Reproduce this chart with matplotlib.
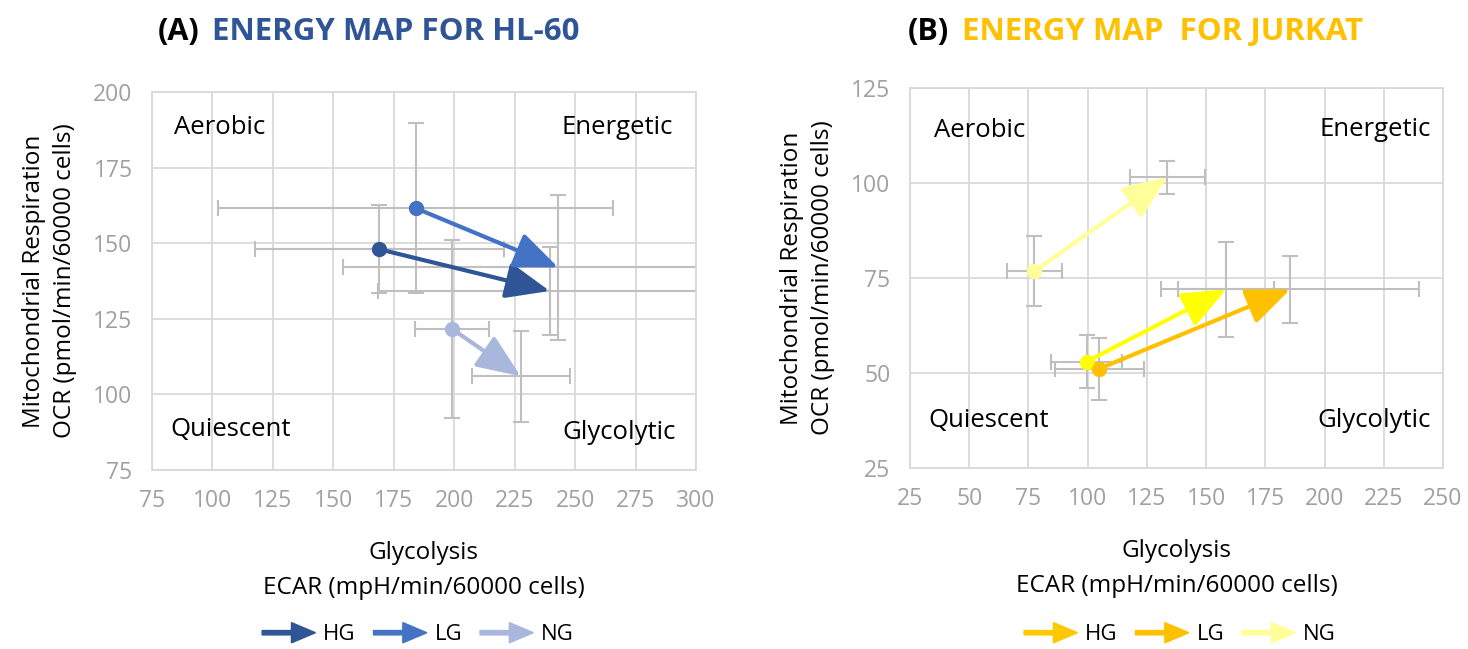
import matplotlib
matplotlib.use("Agg")
import matplotlib.pyplot as plt
import matplotlib.patches as mpatches
from matplotlib.legend_handler import HandlerPatch

plt.rcParams['font.family'] = ['Open Sans', 'DejaVu Sans']

series = ["HG", "LG", "NG"]

# HL-60: start point -> end point with symmetric error bars
hl_x0 = [169, 184, 199]
hl_y0 = [148, 161.6, 121.7]
hl_x1 = [239.5, 243, 227.5]
hl_y1 = [134.2, 142, 106]
hl_x0_err = [51.5, 81.5, 15.4]
hl_y0_err = [14.6, 28, 29.5]
hl_x1_err = [71, 89, 20.3]
hl_y1_err = [14.7, 24, 15]

# Jurkat
jk_x0 = [99.6, 104.8, 77.5]
jk_y0 = [53, 51.1, 76.8]
jk_x1 = [158.5, 185.5, 133.6]
jk_y1 = [72, 72, 101.5]
jk_x0_err = [15, 18.8, 11.7]
jk_y0_err = [6.9, 8.2, 9.2]
jk_x1_err = [20.3, 54.4, 15.8]
jk_y1_err = [12.6, 8.9, 4.3]

hl_colors = ["#2F5597", "#4472C4", "#A9B7DD"]
jk_colors = ["#FFFF00", "#FFC000", "#FFFF99"]
jk_legend_colors = ["#FFC800", "#FFC000", "#FFFF99"]

grid_c = "#D9D9D9"
err_c = "#BFBFBF"
tick_c = "#A0A0A0"


def arrow_handle(legend, orig_handle, xdescent, ydescent, width, height, fontsize):
    return mpatches.FancyArrow(-xdescent, height / 2 - ydescent, width, 0,
                               width=height * 0.28, head_width=height * 1.3,
                               head_length=width * 0.45, length_includes_head=True)


def energy_map(ax, x0, y0, x1, y1, ex0, ey0, ex1, ey1, colors, xlim, ylim, labpos):
    ax.set_xlim(xlim)
    ax.set_ylim(ylim)
    ax.set_xticks(range(xlim[0], xlim[1] + 1, 25))
    ax.set_yticks(range(ylim[0], ylim[1] + 1, 25))
    ax.grid(color=grid_c, lw=1.3, zorder=0)
    ax.set_axisbelow(True)
    for s in ax.spines.values():
        s.set_color(grid_c)
        s.set_linewidth(1.3)
    ax.tick_params(length=0, labelsize=16.5, labelcolor=tick_c, pad=14)

    ax.errorbar(x0, y0, xerr=ex0, yerr=ey0, fmt='none', ecolor=err_c,
                elinewidth=1.5, capsize=6, capthick=1.5, zorder=2)
    ax.errorbar(x1, y1, xerr=ex1, yerr=ey1, fmt='none', ecolor=err_c,
                elinewidth=1.5, capsize=6, capthick=1.5, zorder=2)
    for i in range(len(x0)):
        ax.annotate('', xy=(x1[i], y1[i]), xytext=(x0[i], y0[i]),
                    arrowprops=dict(arrowstyle='-|>,head_length=1.5,head_width=0.62',
                                    color=colors[i], lw=3, mutation_scale=18,
                                    shrinkA=0, shrinkB=0), zorder=3)
        ax.plot(x0[i], y0[i], 'o', color=colors[i], ms=10, zorder=4)

    names = ["Aerobic", "Energetic", "Quiescent", "Glycolytic"]
    has = ["left", "right", "left", "right"]
    for n, ha, (px, py) in zip(names, has, labpos):
        ax.text(px, py, n, transform=ax.transAxes, ha=ha, va='center',
                fontsize=18.5, color='black')

    ax.set_xlabel("Glycolysis\nECAR (mpH/min/60000 cells)", fontsize=17.5,
                  linespacing=1.6, labelpad=20)
    ax.set_ylabel("Mitochondrial Respiration\nOCR (pmol/min/60000 cells)",
                  fontsize=17.5, linespacing=1.35, labelpad=12)


fig = plt.figure(figsize=(14.68, 6.49), dpi=100)
W, H = 1468, 649
ax1 = fig.add_axes([152 / W, 1 - 470 / H, 544 / W, 378 / H])
ax2 = fig.add_axes([910 / W, 1 - 468 / H, 533 / W, 380 / H])

energy_map(ax1, hl_x0, hl_y0, hl_x1, hl_y1, hl_x0_err, hl_y0_err, hl_x1_err, hl_y1_err,
           hl_colors, (75, 300), (75, 200),
           [(0.04, 0.905), (0.957, 0.905), (0.033, 0.106), (0.963, 0.098)])
energy_map(ax2, jk_x0, jk_y0, jk_x1, jk_y1, jk_x0_err, jk_y0_err, jk_x1_err, jk_y1_err,
           jk_colors, (25, 250), (25, 125),
           [(0.045, 0.887), (0.977, 0.892), (0.034, 0.124), (0.977, 0.126)])

# titles
fig.text(158 / W, 1 - 32 / H, "(A)", fontsize=22, fontweight='bold', va='center')
fig.text(212 / W, 1 - 32 / H, "ENERGY MAP FOR HL-60", fontsize=22.5, fontweight='bold',
         va='center', color="#2F5597")
fig.text(908 / W, 1 - 32 / H, "(B)", fontsize=22, fontweight='bold', va='center')
fig.text(962 / W, 1 - 32 / H, "ENERGY MAP  FOR JURKAT", fontsize=22.5, fontweight='bold',
         va='center', color="#FFC000")

# legends
for cx, cols in [(418, hl_colors), (1180, jk_legend_colors)]:
    handles = [mpatches.Patch(color=c, label=s) for c, s in zip(cols, series)]
    fig.legend(handles=handles, loc='center', bbox_to_anchor=(cx / W, 1 - 635 / H),
               ncol=3, frameon=False, fontsize=16, handlelength=2.4,
               handletextpad=0.35, columnspacing=0.8,
               handler_map={mpatches.Patch: HandlerPatch(patch_func=arrow_handle)})

fig.savefig("out.png", dpi=100)
